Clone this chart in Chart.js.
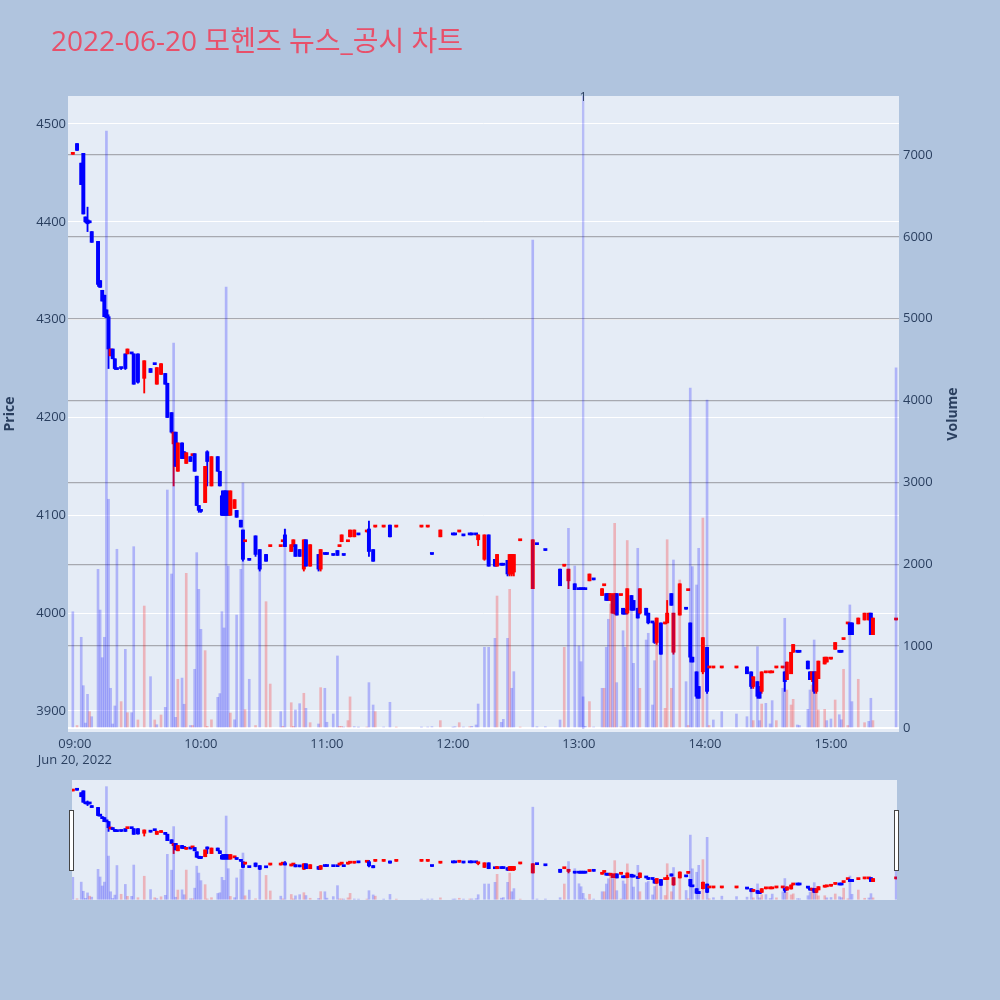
<!DOCTYPE html>
<html>
<head>
<meta charset="utf-8">
<script src="https://cdn.jsdelivr.net/npm/chart.js@4.4.1/dist/chart.umd.min.js"></script>
<style>
  body { margin: 0; background: #b0c4de; }
  #wrap { position: relative; width: 1000px; height: 1000px; }
  #main { position: absolute; left: 0; top: 0; }
  #slider { position: absolute; left: 72px; top: 780px; }
  .handle { position: absolute; width: 3px; height: 59px; top: 810px; background: #fff; border: 1px solid #444; }
</style>
</head>
<body>
<div id="wrap">
  <canvas id="main" width="1000" height="1000"></canvas>
  <canvas id="slider" width="825" height="120"></canvas>
  <div class="handle" style="left:69px"></div>
  <div class="handle" style="left:894px"></div>
</div>
<script>
// 1분봉, 2022-06-20 모헨즈
const times = [
  "08:59","09:01","09:03","09:04","09:05","09:06","09:07","09:08","09:11","09:12","09:13","09:14","09:15","09:16","09:17","09:18","09:19","09:20","09:22","09:24","09:25","09:27","09:28","09:30","09:33","09:36","09:38","09:39","09:41","09:43","09:44","09:46","09:47","09:48","09:49","09:51","09:52","09:53","09:55","09:56","09:57","09:58","09:59",
  "10:00","10:02","10:03","10:05","10:08","10:09","10:10","10:11","10:12","10:13","10:14","10:16","10:17","10:19","10:20","10:21","10:23","10:26","10:28","10:31","10:33","10:38","10:39","10:40","10:43","10:44","10:45","10:47","10:49","10:50","10:52","10:56","10:57","10:59",
  "11:00","11:03","11:05","11:06","11:07","11:08","11:10","11:11","11:13","11:15","11:19","11:20","11:22","11:23","11:27","11:30","11:33","11:45","11:48","11:50","11:54",
  "12:00","12:01","12:03","12:05","12:08","12:09","12:11","12:12","12:15","12:17","12:20","12:21","12:23","12:24","12:26","12:27","12:28","12:29","12:32","12:38","12:40","12:44","12:51","12:53","12:55","12:58",
  "13:00","13:01","13:02","13:03","13:05","13:07","13:11","13:12","13:13","13:14","13:15","13:16","13:17","13:18","13:20","13:21","13:22","13:23","13:25","13:26","13:28","13:29","13:32","13:33","13:35","13:36","13:37","13:39","13:41","13:42","13:44","13:45","13:48","13:51","13:52","13:53","13:54","13:56","13:57","13:59",
  "14:01","14:02","14:04","14:08","14:15","14:20","14:22","14:23","14:25","14:26","14:27","14:29","14:31","14:32","14:34","14:37","14:38","14:39","14:41","14:42","14:44","14:45","14:49","14:50","14:51","14:52","14:53","14:54","14:57","14:58",
  "15:00","15:02","15:04","15:05","15:06","15:08","15:09","15:10","15:13","15:16","15:18","15:19","15:20","15:31"
]
const opens = [
  4469,4480,4460,4470,4405,4402,4401,4390,4380,4340,4330,4325,4310,4303,4263,4270,4260,4250,4251,4265,4265,4266,4265,4265,4240,4250,4255,4234,4244,4245,4235,4205,4173,4185,4145,4174,4165,4153,4160,4161,4163,4140,4110,
  4106,4113,4165,4130,4160,4145,4120,4125,4125,4120,4100,4107,4105,4095,4085,4073,4055,4079,4065,4060,4068,4068,4073,4080,4063,4068,4070,4065,4045,4075,4048,4060,4045,4061,
  4061,4060,4064,4068,4073,4060,4073,4078,4078,4081,4083,4086,4065,4088,4088,4090,4088,4088,4088,4061,4078,
  4081,4081,4083,4080,4081,4081,4081,4075,4055,4080,4055,4048,4050,4050,4054,4040,4040,4042,4074,4025,4071,4065,4045,4048,4033,4030,
  4025,4025,4025,4025,4033,4035,4018,4028,4020,4020,4013,4000,4000,4020,4018,4005,4004,4000,4018,4013,4005,4000,4005,4000,3991,3990,3970,3990,3989,3990,4020,3960,3998,4005,4023,3990,3955,3940,3925,3940,
  3965,3944,3944,3944,3944,3945,3940,3925,3930,3925,3920,3939,3939,3939,3944,3944,3940,3932,3938,3960,3961,3961,3951,3940,3932,3940,3920,3933,3948,3950,
  3953,3963,3961,3961,3973,3989,3990,3990,3989,3993,3993,4000,3978,3993
]
const highs = [
  4470,4480,4460,4470,4405,4415,4401,4390,4380,4340,4330,4325,4310,4305,4270,4270,4260,4250,4251,4265,4270,4266,4265,4265,4258,4250,4255,4251,4255,4245,4235,4205,4185,4185,4174,4174,4165,4164,4160,4162,4163,4140,4110,
  4106,4150,4166,4160,4160,4145,4125,4125,4125,4125,4125,4116,4105,4095,4085,4074,4055,4079,4065,4060,4069,4069,4074,4086,4070,4075,4070,4065,4075,4075,4070,4060,4065,4061,
  4061,4060,4064,4069,4080,4060,4074,4085,4085,4081,4084,4094,4065,4089,4089,4090,4089,4089,4089,4061,4085,
  4081,4081,4084,4080,4081,4081,4081,4080,4080,4080,4055,4060,4050,4050,4054,4060,4060,4060,4075,4075,4071,4065,4045,4049,4045,4030,
  4025,4025,4025,4025,4040,4035,4025,4029,4020,4020,4020,4020,4020,4020,4019,4005,4004,4025,4018,4013,4005,4025,4005,4000,3991,3990,3995,3990,3990,4013,4020,4000,4030,4005,4024,3990,3955,3940,3925,3975,
  3965,3945,3945,3945,3945,3945,3940,3935,3930,3925,3940,3940,3940,3940,3945,3945,3940,3950,3960,3968,3961,3961,3951,3940,3940,3940,3940,3951,3955,3955,
  3954,3970,3961,3961,3974,3990,3990,3990,3995,4000,4000,4000,3995,3994
]
const lows = [
  4469,4473,4438,4408,4399,4390,4399,4379,4334,4333,4319,4303,4302,4250,4263,4260,4249,4249,4249,4249,4265,4265,4234,4235,4225,4246,4254,4234,4244,4234,4200,4184,4130,4150,4145,4158,4158,4153,4155,4161,4145,4110,4103,
  4103,4113,4130,4130,4145,4130,4100,4100,4100,4100,4100,4107,4098,4088,4053,4073,4054,4058,4043,4053,4068,4068,4073,4068,4063,4068,4058,4058,4043,4048,4048,4043,4043,4060,
  4060,4059,4059,4068,4073,4059,4073,4078,4078,4080,4083,4058,4053,4088,4088,4078,4088,4088,4088,4060,4078,
  4080,4080,4083,4079,4080,4080,4080,4069,4054,4048,4048,4048,4049,4049,4038,4038,4038,4038,4074,4025,4070,4064,4028,4048,4025,4024,
  4024,4024,4024,4024,4033,4034,4018,4028,4013,4013,4013,4000,3999,3998,4018,3999,3999,3999,4003,4003,3995,3999,3998,3989,3990,3969,3968,3958,3989,3990,4008,3958,3998,4004,4023,3950,3950,3913,3913,3938,
  3918,3944,3944,3944,3944,3938,3923,3923,3913,3913,3918,3939,3939,3939,3944,3944,3920,3932,3938,3960,3960,3960,3943,3932,3930,3918,3918,3933,3948,3950,
  3953,3963,3960,3960,3973,3989,3978,3978,3989,3993,3993,3978,3978,3993
]
const closes = [
  4470,4473,4438,4408,4400,4398,4399,4379,4336,4333,4319,4303,4302,4270,4270,4260,4250,4249,4250,4250,4270,4265,4234,4236,4258,4246,4254,4251,4255,4234,4200,4185,4185,4150,4174,4158,4158,4164,4155,4162,4145,4110,4105,
  4104,4150,4155,4160,4145,4130,4100,4100,4100,4100,4125,4116,4098,4088,4055,4074,4054,4060,4045,4053,4069,4069,4074,4068,4070,4075,4058,4058,4075,4048,4070,4045,4065,4060,
  4060,4059,4059,4069,4080,4059,4074,4085,4085,4080,4084,4063,4053,4089,4089,4078,4089,4089,4089,4060,4085,
  4080,4080,4084,4079,4080,4080,4080,4080,4080,4048,4048,4060,4049,4049,4040,4060,4060,4060,4075,4075,4070,4064,4028,4049,4045,4024,
  4024,4024,4024,4024,4040,4034,4025,4029,4013,4013,4020,4018,4020,3998,4019,3999,3999,4025,4003,4003,3995,4025,3998,3990,3990,3970,3995,3958,3990,4000,4008,4000,4030,4004,4024,3955,3950,3915,3913,3975,
  3920,3945,3945,3945,3945,3938,3925,3935,3915,3913,3940,3940,3940,3940,3945,3945,3930,3950,3960,3968,3960,3960,3943,3932,3940,3920,3940,3951,3955,3955,
  3954,3970,3960,3960,3974,3990,3978,3978,3995,4000,4000,3978,3995,3994
]
const volumes = [
  1420,30,1108,517,60,411,200,138,1938,1441,859,1108,7290,2794,485,49,269,2183,322,961,187,187,2215,98,1490,627,98,40,159,252,2907,1881,4703,130,595,610,290,1889,30,30,717,2142,1694,
  1205,945,20,100,375,420,1421,1222,5387,1979,183,100,1380,1938,2993,224,595,30,1990,1543,537,200,20,2427,309,20,220,297,424,240,65,49,493,485,
  70,171,880,20,20,12,90,380,16,10,12,554,281,200,12,314,10,10,12,16,90,
  10,16,65,12,16,20,37,293,986,986,1095,1612,69,106,1095,1694,485,688,10,5961,15,15,98,986,2439,1979,
  1002,810,380,20,322,12,485,485,986,1328,1515,1625,2500,554,15,1188,986,2290,1462,790,2195,485,1075,1157,281,822,1319,1230,240,2300,485,2052,1808,566,30,4153,1971,1747,2195,2565,
  4007,30,98,200,171,138,595,90,993,90,293,301,50,334,90,485,1340,464,281,350,37,30,228,464,525,1075,505,220,228,90,
  110,342,162,100,717,30,1503,322,595,65,81,363,90,4398
]
const priceTicks = [3900, 4000, 4100, 4200, 4300, 4400, 4500]
const volumeTicks = [0, 1000, 2000, 3000, 4000, 5000, 6000, 7000]
const hourTicks = ["09:00", "10:00", "11:00", "12:00", "13:00", "14:00", "15:00"]
const dateLabel = "Jun 20, 2022"
const newsTime = "13:02"
const newsLabel = "1"
const chartTitle = "2022-06-20 모헨즈 뉴스_공시 차트"

const toMin = t => {
  const [h, m] = t.split(":").map(Number)
  return (h - 9) * 60 + m
}
const fmt = v => {
  const h = 9 + Math.floor(v / 60), m = v % 60
  return String(h).padStart(2, "0") + ":" + String(m).padStart(2, "0")
}

const xs = times.map(toMin)
const UP = "#ff0000", DOWN = "#0000ff"
const candleColors = closes.map((c, i) => c > opens[i] ? UP : DOWN)
const volColors = closes.map((c, i) => i > 0 && c > closes[i - 1] ? "rgba(255,0,0,0.24)" : "rgba(0,0,255,0.24)")

const PLOT_BG = "#e5ecf6"
const FONT = '"Open Sans", "Noto Sans CJK KR", sans-serif'
const TXT = "#2a3f5f"

function makeDatasets() {
  return [
    { label: "Volume", yAxisID: "y2", order: 0, grouped: false, barThickness: 2,
      data: xs.map((x, i) => ({ x: x, y: volumes[i] })), backgroundColor: volColors },
    { label: "body", yAxisID: "y", order: 1, grouped: false, barThickness: 3.3, minBarLength: 2,
      data: xs.map((x, i) => ({ x: x, y: [opens[i], closes[i]] })), backgroundColor: candleColors },
    { label: "wick", yAxisID: "y", order: 2, grouped: false, barThickness: 1.2,
      data: xs.map((x, i) => ({ x: x, y: [lows[i], highs[i]] })), backgroundColor: candleColors }
  ]
}

const bgPlugin = {
  id: "bg",
  beforeDraw(chart) {
    const a = chart.chartArea, ctx = chart.ctx
    ctx.save()
    ctx.fillStyle = PLOT_BG
    ctx.fillRect(a.left, a.top, a.right - a.left, a.bottom - a.top)
    ctx.restore()
  }
}

const decorPlugin = {
  id: "decor",
  afterDatasetsDraw(chart) {
    const a = chart.chartArea, ctx = chart.ctx
    const nx = chart.scales.x.getPixelForValue(toMin(newsTime))
    ctx.save()
    ctx.strokeStyle = "rgba(0,0,255,0.2)"
    ctx.lineWidth = 2.4
    ctx.beginPath()
    ctx.moveTo(nx, a.top)
    ctx.lineTo(nx, a.bottom - 3)
    ctx.stroke()
    ctx.restore()
  },
  afterDraw(chart) {
    const a = chart.chartArea, ctx = chart.ctx
    ctx.save()
    ctx.fillStyle = "#e8506a"
    ctx.font = "28px " + FONT
    ctx.textBaseline = "alphabetic"
    ctx.textAlign = "left"
    ctx.fillText(chartTitle, 51, 51)

    ctx.fillStyle = TXT
    ctx.font = "bold 14px " + FONT
    ctx.textAlign = "center"
    ctx.textBaseline = "middle"
    const midY = (a.top + a.bottom) / 2
    ctx.save()
    ctx.translate(10, midY)
    ctx.rotate(-Math.PI / 2)
    ctx.fillText("Price", 0, 0)
    ctx.restore()
    ctx.save()
    ctx.translate(953, midY)
    ctx.rotate(-Math.PI / 2)
    ctx.fillText("Volume", 0, 0)
    ctx.restore()

    const nx = chart.scales.x.getPixelForValue(toMin(newsTime))
    ctx.font = "12px " + FONT
    ctx.textBaseline = "alphabetic"
    ctx.fillText(newsLabel, nx, a.top + 5)
    ctx.restore()
  }
}

const tickFont = { family: FONT, size: 13 }

new Chart(document.getElementById("main"), {
  type: "bar",
  data: { datasets: makeDatasets() },
  plugins: [bgPlugin, decorPlugin],
  options: {
    responsive: false,
    animation: false,
    layout: { padding: { top: 96, left: 0, right: 0, bottom: 228 } },
    plugins: { legend: { display: false }, tooltip: { enabled: false } },
    scales: {
      x: {
        type: "linear", offset: false, min: -3.3, max: 392.4,
        grid: { display: false, drawTicks: false }, border: { display: false },
        afterBuildTicks: s => { s.ticks = hourTicks.map(t => ({ value: toMin(t) })) },
        afterFit: s => { s.height = 40 },
        ticks: {
          autoSkip: false, maxRotation: 0, padding: 4, color: TXT,
          font: { family: FONT, size: 13, lineHeight: 1.25 },
          callback: v => v === 0 ? [fmt(v), dateLabel] : fmt(v)
        }
      },
      y: {
        position: "left", min: 3878.5, max: 4528.6,
        grid: { color: "#ffffff", lineWidth: 1, drawTicks: false },
        border: { display: false },
        afterBuildTicks: s => { s.ticks = priceTicks.map(v => ({ value: v })) },
        afterFit: s => { s.width = 68 },
        ticks: { padding: 2, color: TXT, font: tickFont, callback: v => String(v) }
      },
      y2: {
        position: "right", min: -49, max: 7720,
        grid: {
          drawTicks: false,
          color: c => c.tick.value === 0 ? "#ffffff" : "#a7a9b0",
          lineWidth: c => c.tick.value === 0 ? 2 : 1.3
        },
        border: { display: false },
        afterBuildTicks: s => { s.ticks = volumeTicks.map(v => ({ value: v })) },
        afterFit: s => { s.width = 101 },
        ticks: { padding: 4, color: TXT, font: tickFont, callback: v => String(v) }
      }
    }
  }
})

new Chart(document.getElementById("slider"), {
  type: "bar",
  data: { datasets: makeDatasets() },
  plugins: [bgPlugin],
  options: {
    responsive: false,
    animation: false,
    layout: { padding: 0 },
    plugins: { legend: { display: false }, tooltip: { enabled: false } },
    scales: {
      x: { type: "linear", offset: false, min: -1.4, max: 391.4, display: false },
      y: { min: 3878.5, max: 4528.6, display: false },
      y2: { min: -49, max: 7720, display: false }
    }
  }
})
</script>
</body>
</html>
